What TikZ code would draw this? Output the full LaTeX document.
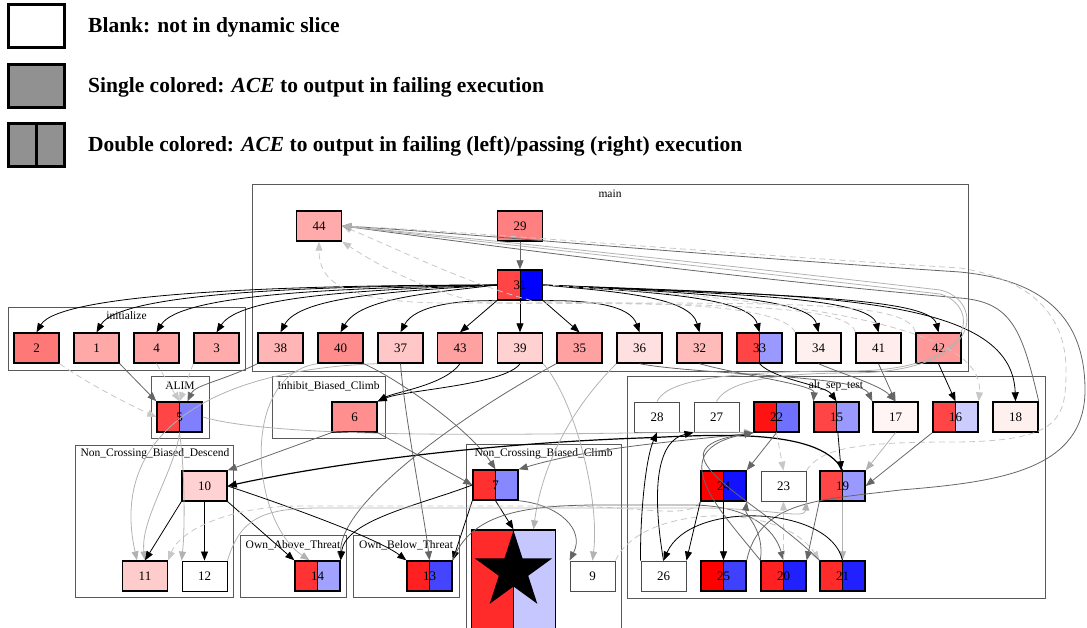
\documentclass[tikz,border=0pt]{standalone}
\usepackage{fontspec}
\setmainfont{Liberation Serif}
\usetikzlibrary{arrows.meta,shapes.geometric}

\begin{document}
\begin{tikzpicture}[x=1pt, y=-1pt,
  nbox/.style={draw=black, line width=1.4pt, minimum width=45pt, minimum height=30pt,
               inner sep=0pt, font=\fontsize{13}{15}\selectfont},
  blank/.style={nbox, draw=black!70, line width=0.9pt, fill=white},
  split/.style 2 args={nbox, path picture={
      \fill[#1] (path picture bounding box.south west) rectangle (path picture bounding box.north);
      \fill[#2] (path picture bounding box.south) rectangle (path picture bounding box.north east);
      \draw[line width=1pt] (path picture bounding box.south) -- (path picture bounding box.north);}},
  cluster/.style={draw=black!65, line width=0.9pt},
  clabel/.style={font=\fontsize{11.5}{13}\selectfont, inner sep=0pt},
  legbox/.style={draw=black, line width=2.2pt, minimum width=56pt, minimum height=43pt,
                 inner sep=0pt, fill=black!43},
  legtext/.style={anchor=west, font=\fontsize{21.5}{25}\selectfont\bfseries, inner sep=0pt},
  arr/.style={-{Triangle[length=9pt,width=7pt]}, line width=0.8pt},
  cb/.style={arr, draw=black},
  cg/.style={arr, draw=black!60},
  cl/.style={arr, draw=black!30},
  cd/.style={arr, draw=black!22, dash pattern=on 6pt off 4pt}
]
\useasboundingbox (0,0) rectangle (1087,627);
\clip (0,0) rectangle (1087,627);

% legend
\node[legbox, fill=white] (lg1) at (36.5,26) {};
\node[legbox] (lg2) at (36.5,86) {};
\node[legbox] (lg3) at (36.5,145) {};
\draw[line width=2.2pt] (lg3.north) -- (lg3.south);
\node[legtext] (lt1) at (88,27) {Blank: not in dynamic slice};
\node[legtext] (lt2) at (88,87) {Single colored: \textit{ACE} to output in failing execution};
\node[legtext] (lt3) at (88,146) {Double colored: \textit{ACE} to output in failing (left)/passing (right) execution};

% clusters
\draw[cluster] (252,184) rectangle (968,371);
\node[clabel] (lmain) at (610,194) {main};
\draw[cluster] (8,307) rectangle (245,370);
\node[clabel] (linit) at (126.5,316) {initialize};
\draw[cluster] (151,376) rectangle (209,438);
\node[clabel] (lalim) at (180,386) {ALIM};
\draw[cluster] (272,376) rectangle (385,438);
\node[clabel] (libc) at (328.5,386) {Inhibit\_Biased\_Climb};
\draw[cluster] (75,445) rectangle (233,597);
\node[clabel] (lncbd) at (155,454) {Non\_Crossing\_Biased\_Descend};
\draw[cluster] (240,535) rectangle (346,597);
\node[clabel] (loat) at (293,545) {Own\_Above\_Threat};
\draw[cluster] (353,535) rectangle (459,597);
\node[clabel] (lobt) at (406,545) {Own\_Below\_Threat};
\draw[cluster] (466,444) rectangle (621,640);
\node[clabel] (lncbc) at (543.5,454) {Non\_Crossing\_Biased\_Climb};
\draw[cluster] (627,376) rectangle (1045,598);
\node[clabel] (last) at (836,386) {alt\_sep\_test};

% main
\node[nbox, fill=red!33] (n44) at (319,226) {44};
\node[nbox, fill=red!50] (n29) at (520,226) {29};
\node[split={red!73}{blue}] (n31) at (520,285) {31};
\node[nbox, fill=red!29] (n38) at (280.5,348) {38};
\node[nbox, fill=red!45] (n40) at (340.5,348) {40};
\node[nbox, fill=red!22] (n37) at (400.5,348) {37};
\node[nbox, fill=red!37] (n43) at (460,348) {43};
\node[nbox, fill=red!18] (n39) at (520,348) {39};
\node[nbox, fill=red!37] (n35) at (579.5,348) {35};
\node[nbox, fill=red!12] (n36) at (639.5,348) {36};
\node[nbox, fill=red!27] (n32) at (699.5,348) {32};
\node[split={red!73}{blue!40}] (n33) at (759.5,348) {33};
\node[nbox, fill=red!6] (n34) at (818.5,348) {34};
\node[nbox, fill=red!7] (n41) at (878.5,348) {41};
\node[nbox, fill=red!40] (n42) at (938.5,348) {42};

% initialize
\node[nbox, fill=red!53] (n2) at (36.5,348) {2};
\node[nbox, fill=red!34] (n1) at (96.5,348) {1};
\node[nbox, fill=red!36] (n4) at (156.5,348) {4};
\node[nbox, fill=red!33] (n3) at (216.5,348) {3};

% ALIM, Inhibit_Biased_Climb
\node[split={red!73}{blue!50}] (n5) at (179.5,417) {5};
\node[nbox, fill=red!44] (n6) at (354.5,417) {6};

% Non_Crossing_Biased_Descend, Own_Above_Threat, Own_Below_Threat
\node[nbox, fill=red!18] (n10) at (204.5,486) {10};
\node[nbox, fill=red!20] (n11) at (145,576) {11};
\node[blank, draw=black] (n12) at (204.5,576) {12};
\node[split={red!80}{blue!37}] (n14) at (317.5,576) {14};
\node[split={red!87}{blue!73}] (n13) at (429.5,576) {13};

% Non_Crossing_Biased_Climb
\node[split={red!81}{blue!47}] (n7) at (495.5,485) {7};
\node[split={red!83}{blue!22}, minimum width=84pt, minimum height=100pt] (ace) at (513.5,580) {};
\node[star, star points=5, star point ratio=2.618, fill=black, minimum size=81pt, inner sep=0pt] (acestar) at (513.5,571) {};
\node[blank] (n9) at (592.5,576) {9};

% alt_sep_test
\node[blank] (n28) at (657,417) {28};
\node[blank] (n27) at (716.5,417) {27};
\node[split={red!93}{blue!56}] (n22) at (776.5,417) {22};
\node[split={red!73}{blue!40}] (n15) at (836.5,417) {15};
\node[nbox, fill=red!4] (n17) at (895.5,417) {17};
\node[split={red!73}{blue!20}] (n16) at (955.5,417) {16};
\node[nbox, fill=red!6] (n18) at (1015.5,417) {18};
\node[split={red}{blue!93}] (n24) at (723.5,486) {24};
\node[blank] (n23) at (783.5,486) {23};
\node[split={red!73}{blue!40}] (n19) at (842.5,486) {19};
\node[blank] (n26) at (663.5,576) {26};
\node[split={red}{blue!75}] (n25) at (723.5,576) {25};
\node[split={red!87}{blue!87}] (n20) at (783.5,576) {20};
\node[split={red!83}{blue!87}] (n21) at (842.5,576) {21};

% edges out of main
\draw[cg] (n29) -- (n31);
\draw[cb] (n31.west) .. controls (300,285) and (60,292) .. (n2.north);
\draw[cb] (n31.west) .. controls (320,286) and (120,292) .. (n1.north);
\draw[cb] (n31.west) .. controls (340,288) and (180,294) .. (n4.north);
\draw[cb] (n31.west) .. controls (360,290) and (240,296) .. (n3.north);
\draw[cb] (n31.west) .. controls (400,291) and (300,296) .. (n38.north);
\draw[cb] (n31.west) .. controls (430,293) and (360,298) .. (n40.north);
\draw[cb] (n31.south west) .. controls (460,300) and (415,305) .. (n37.north);
\draw[cb] (n31.south west) -- (n43.north);
\draw[cb] (n31) -- (n39);
\draw[cb] (n31.south east) -- (n35.north);
\draw[cb] (n31.south east) .. controls (590,300) and (630,305) .. (n36.north);
\draw[cb] (n31.east) .. controls (620,292) and (690,297) .. (n32.north);
\draw[cb] (n31.east) .. controls (650,292) and (750,297) .. (n33.north);
\draw[cb] (n31.east) .. controls (690,293) and (810,297) .. (n34.north);
\draw[cb] (n31.east) .. controls (730,294) and (870,297) .. (n41.north);
\draw[cb] (n31.east) .. controls (770,295) and (930,297) .. (n42.north);
\draw[cb] (n31.east) .. controls (820,296) and (1012,295) .. (n18.north);

% back into 44
\draw[cd] (n42.north west) .. controls (910,303) and (800,303) .. (600,303) -- (450,303) .. controls (340,303) and (319,280) .. (n44.south);
\draw[cd] (n41.north west) .. controls (850,303) and (700,304) .. (483,303) .. controls (420,290) and (370,260) .. (n44.south east);
\draw[cd] (n34.north west) .. controls (780,303) and (650,303) .. (537,302) .. controls (470,285) and (400,250) .. (n44.east);
\draw[cg] (n25.north east) .. controls (760,500) and (820,500) .. (900,490) .. controls (1000,482) and (1085,470) .. (1085,390) .. controls (1085,300) and (1020,278) .. (960,272) .. controls (700,255) and (450,232) .. (n44.east);
\draw[cd] (n23.north east) .. controls (820,450) and (850,442) .. (950,442) .. controls (1060,442) and (1066,420) .. (1066,370) .. controls (1066,300) and (1010,276) .. (960,268) .. controls (700,252) and (450,230) .. (n44.east);
\draw[cg] (n18.north east) .. controls (1022,330) and (1012,302) .. (960,298) .. controls (700,275) and (450,240) .. (n44.east);
\draw[cl] (n27.north) .. controls (725,385) and (760,373) .. (850,373) .. controls (985,373) and (985,300) .. (940,290) .. controls (700,262) and (450,236) .. (n44.east);
\draw[cl] (n28.north) .. controls (665,385) and (700,371) .. (850,371) .. controls (980,371) and (980,305) .. (940,294) .. controls (700,266) and (450,238) .. (n44.east);

% into ALIM and Inhibit_Biased_Climb
\draw[cg] (n38.south west) .. controls (225,380) and (195,385) .. ([xshift=8pt]n5.north);
\draw[cg] (n1.south east) -- (n5.north west);
\draw[cd] (n4.south) -- (n5.north);
\draw[cd] (n3.south west) -- (n5.north);
\draw[cd] (n2.south east) .. controls (90,385) and (130,405) .. (n5.west);
\draw[cb] (n43.south) .. controls (445,385) and (395,392) .. (n6.north east);
\draw[cb] (n39.south) .. controls (505,385) and (405,390) .. (n6.north east);

% lower clusters
\draw[cl] (n5.south) .. controls (175,470) and (140,520) .. (n11.north);
\draw[cl] (n5.south) .. controls (185,470) and (185,530) .. (n12.north west);
\draw[cl] (n37.south west) .. controls (200,370) and (110,440) .. ([xshift=-8pt]n11.north);
\draw[cl] (n5.east) .. controls (300,445) and (650,430) .. (n22.south west);
\draw[cg] (n6.south west) -- (n10.north east);
\draw[cg] (n6.south east) -- (n7.west);
\draw[cg] (n40.south east) .. controls (400,380) and (470,430) .. (n7.north);
\draw[cg] (n22.south west) .. controls (700,440) and (600,445) .. (n7.north east);
\draw[cb, line width=1.2pt] (n19.north) .. controls (820,425) and (700,436) .. (640,438) .. controls (450,445) and (300,470) .. (n10.east);
\draw[cg] (n35.south west) .. controls (470,410) and (340,500) .. (n14.north east);
\draw[cl] (n40.south west) .. controls (240,375) and (250,520) .. ([xshift=-8pt]n14.north);
\draw[cg] (n37.south) .. controls (405,420) and (425,520) .. (n13.north);
\draw[cb] (n10.south west) -- (n11.north);
\draw[cb] (n10) -- (n12);
\draw[cb] (n10.south east) -- (n14.north west);
\draw[cb] (n10.east) .. controls (300,510) and (380,540) .. (n13.north west);
\draw[cb] (n7.west) .. controls (420,505) and (345,520) .. (n14.north east);
\draw[cb] (n7.south west) -- (n13.north east);
\draw[cb] (n7.south) -- (ace.north);
\draw[cg] (n7.south east) .. controls (560,505) and (585,530) .. (n9.north west);
\draw[cl] (n39.south east) .. controls (575,400) and (600,500) .. (n9.north);
\draw[cl] (n36.south west) .. controls (560,420) and (540,480) .. ([xshift=20pt]ace.north);
\draw[cd] (n24.south west) .. controls (690,520) and (640,506) .. (560,506) -- (300,506) .. controls (230,506) and (180,530) .. (n11.north east);
\draw[cg] (n13.north east) .. controls (470,515) and (520,505) .. (600,505) -- (690,505) .. controls (750,505) and (775,530) .. (n20.north);
\draw[cl] (n12.north east) .. controls (240,520) and (260,508) .. (320,508) -- (700,508) .. controls (770,508) and (805,520) .. (n23.south east);
\draw[cd] (n9.north east) .. controls (640,505) and (780,500) .. (n21.north west);

% alt_sep_test
\draw[cb] (n33.south) .. controls (775,380) and (825,385) .. (n15.north);
\draw[cg] (n32.south) .. controls (740,375) and (815,385) .. (n15.north west);
\draw[cg] (n36.south) .. controls (700,375) and (860,375) .. (n17.north west);
\draw[cg] (n34.south) .. controls (845,375) and (880,385) .. (n17.north);
\draw[cg] (n41.south) -- (n17.north);
\draw[cb] (n42.south) -- (n16.north);
\draw[cd] (n31.east) .. controls (820,300) and (985,330) .. (n16.north east);
\draw[cb] (n15) -- (n19);
\draw[cl] (n17.south) -- (n19.north east);
\draw[cg] (n16.south west) -- (n19.east);
\draw[cg] (n22.south) -- (n24.north east);
\draw[cd] (n22.south) -- (n23.north);
\draw[cb] (n24.south west) -- (n26.north east);
\draw[cb] (n24) -- (n25);
\draw[cg] (n19.south west) -- (n20.north east);
\draw[cl] (n19) -- (n21);
\draw[cd] (n20) -- (n23);
\draw[cb] (n21.north) .. controls (830,505) and (690,500) .. (n26.north);
\draw[cb] (n26.north west) .. controls (640,520) and (645,460) .. (n28.south);
\draw[cb] (n26.north) .. controls (650,480) and (660,440) .. (n27.south west);
\draw[cg] (n20.north west) .. controls (720,510) and (660,450) .. (n22.south west);
\draw[cg] (n21.north west) .. controls (760,500) and (640,450) .. (n22.south west);
\draw[cg] (n20.north west) .. controls (765,530) and (745,515) .. (n24.south east);
\end{tikzpicture}
\end{document}
